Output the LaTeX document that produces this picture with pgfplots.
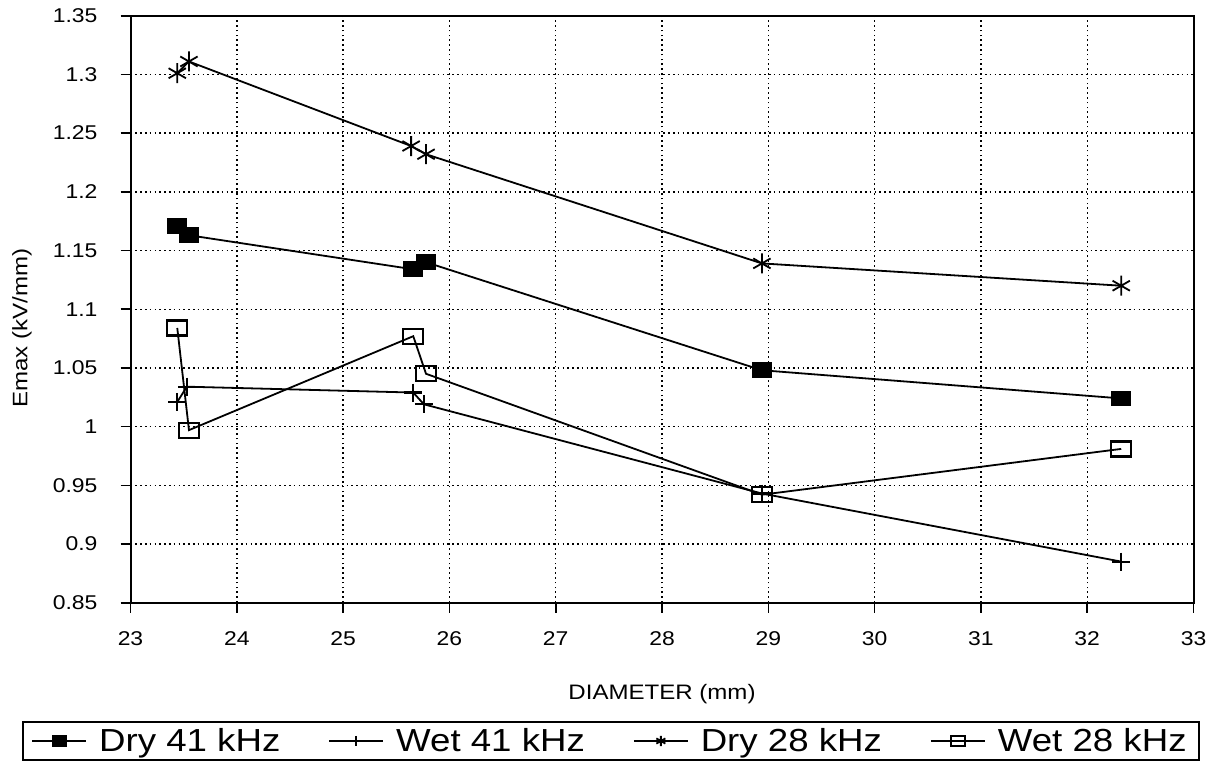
\documentclass[border=0pt]{standalone}
\usepackage{fontspec}
\setmainfont{Liberation Sans}[FakeStretch=1.15]
\usepackage{pgfplots}
\pgfplotsset{compat=1.18}
\begin{document}
\begin{tikzpicture}
\useasboundingbox (0,0) rectangle (607bp,381bp);
\begin{axis}[
  at={(65.25bp,79.65bp)}, anchor=south west,
  scale only axis, width=531.5bp, height=293.5bp,
  xmin=23, xmax=33, ymin=0.85, ymax=1.35,
  xtick={23,24,25,26,27,28,29,30,31,32,33},
  xticklabels={23,24,25,26,27,28,29,30,31,32,33},
  ytick={0.85,0.9,0.95,1,1.05,1.1,1.15,1.2,1.25,1.3,1.35},
  yticklabels={0.85,0.9,0.95,1,1.05,1.1,1.15,1.2,1.25,1.3,1.35},
  tick pos=left, tick align=outside, major tick length=5bp,
  grid=major,
  major grid style={black, line width=0.7bp, dash pattern=on 0.8bp off 1.6bp},
  axis line style={line width=1bp},
  every tick/.style={black, line width=0.8bp},
  ticklabel style={font=\fontsize{10}{12}\selectfont},
  xticklabel style={yshift=-6bp},
  yticklabel style={xshift=-8bp},
  xlabel={DIAMETER (mm)}, ylabel={Emax (kV/mm)},
  xlabel style={at={(axis description cs:0.5,-0.155)}, anchor=center, font=\fontsize{10.5}{12}\selectfont},
  ylabel style={at={(axis description cs:-0.102,0.468)}, anchor=center, font=\fontsize{10.5}{12}\selectfont},
  legend columns=4,
  legend style={at={(axis description cs:0.452,-0.2356)}, anchor=center,
    draw=black, line width=1bp, font=\fontsize{16}{19}\selectfont,
    /tikz/every even column/.append style={column sep=22bp},
    /tikz/every odd column/.append style={column sep=4bp},
    inner xsep=4bp, inner ysep=1bp},
  legend image code/.code={\draw[#1, mark repeat=2, mark phase=2] plot coordinates {(0bp,0bp) (13.5bp,0bp) (27bp,0bp)};},
  legend image post style={mark size=2.6bp},
  clip=false,
]
\addplot[black, line width=0.9bp, mark=square*, mark size=3.5bp, mark options={xscale=1.28, solid, fill=black}]
  coordinates {(23.44,1.171) (23.55,1.163) (25.66,1.134) (25.78,1.140) (28.94,1.048) (32.32,1.024)};
\addlegendentry{Dry 41 kHz}
\addplot[black, line width=0.9bp, mark=+, mark size=4.5bp, mark options={solid, line width=1.1bp}]
  coordinates {(23.44,1.021) (23.53,1.034) (25.66,1.029) (25.76,1.019) (28.94,0.943) (32.32,0.885)};
\addlegendentry{Wet 41 kHz}
\addplot[black, line width=0.9bp, mark=asterisk, mark size=5bp, mark options={solid, line width=0.9bp}]
  coordinates {(23.44,1.301) (23.55,1.311) (25.64,1.239) (25.78,1.232) (28.94,1.139) (32.32,1.120)};
\addlegendentry{Dry 28 kHz}
\addplot[black, line width=0.9bp, mark=square, mark size=3.75bp, mark options={xscale=1.33, solid, line width=1.1bp}]
  coordinates {(23.44,1.084) (23.55,0.997) (25.66,1.077) (25.78,1.045) (28.94,0.942) (32.32,0.981)};
\addlegendentry{Wet 28 kHz}
\end{axis}
\end{tikzpicture}
\end{document}
